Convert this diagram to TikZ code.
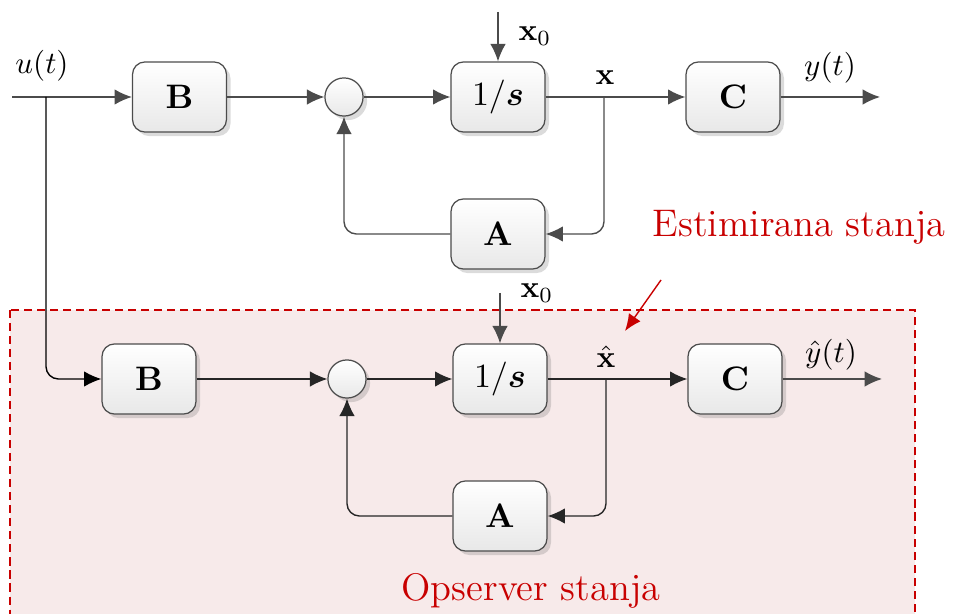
\documentclass[tikz,border=0pt]{standalone}
\usepackage{amsmath}
\usetikzlibrary{arrows.meta,shadows,calc}
\definecolor{obsred}{RGB}{200,0,0}
\definecolor{obsfill}{RGB}{247,234,234}
\definecolor{wirec}{RGB}{75,75,75}
\begin{document}
\begin{tikzpicture}[x=0.3225pt,y=-0.3225pt,
  softshadow/.style={drop shadow={shadow xshift=1.3pt,shadow yshift=-1.3pt,opacity=0.2,fill=black!70}},
  blockbox/.style={draw=black!70,line width=0.4pt,rounded corners=4pt,
    minimum width=30.3pt,minimum height=22.6pt,inner sep=0pt,
    top color=white,bottom color=black!9,softshadow,
    font=\fontsize{11}{13}\selectfont},
  sumnode/.style={circle,draw=black!70,line width=0.4pt,minimum size=12.3pt,
    inner sep=0pt,top color=white,bottom color=black!9,softshadow},
  wire/.style={draw=wirec,line width=0.45pt,rounded corners=4pt},
  sig/.style={wire,-{Latex[length=5.6pt,width=5pt]}},
  lbl/.style={font=\fontsize{10}{12}\selectfont,inner sep=0pt},
  redlbl/.style={text=obsred,font=\fontsize{12.4}{15}\selectfont,inner sep=0pt}]
\useasboundingbox (0,0) rectangle (953,614);

% observer region
\draw[obsred,line width=0.4pt,dash pattern=on 2.6pt off 1.6pt,fill=obsfill]
  (10,310) rectangle (915,640);

% ---------------- plant ----------------
\coordinate (uin) at (12,97);
\coordinate (ubr) at (46,97);
\node[blockbox] (B1) at (179.5,97) {$\mathbf{B}$};
\node[sumnode] (S1) at (344,97) {};
\node[blockbox] (I1) at (498,97) {$1/\boldsymbol{s}$};
\node[blockbox] (C1) at (733,97) {$\mathbf{C}$};
\node[blockbox] (A1) at (498,234) {$\mathbf{A}$};
\coordinate (x1) at (604,97);
\coordinate (y1) at (880,97);
\coordinate (x0a) at (498,12);

\draw[sig] (uin) -- (B1.west);
\draw[sig] (B1.east) -- (S1.west);
\draw[sig] (S1.east) -- (I1.west);
\draw[sig] (I1.east) -- (C1.west);
\draw[sig] (C1.east) -- (y1);
\draw[sig] (x0a) -- (I1.north);
\draw[sig] (x1) |- (A1.east);
\draw[sig] (A1.west) -| (S1.south);

\node[lbl] (ulab) at (42,66) {$u(t)$};
\node[lbl] (x0lab1) at (535,36) {$\mathbf{x}_0$};
\node[lbl] (xlab) at (605,78) {$\mathbf{x}$};
\node[lbl] (ylab) at (830,68) {$y(t)$};

% ---------------- observer ----------------
\node[blockbox] (B2) at (149,379) {$\mathbf{B}$};
\node[sumnode] (S2) at (347,379) {};
\node[blockbox] (I2) at (500,379) {$1/\boldsymbol{s}$};
\node[blockbox] (C2) at (735,379) {$\mathbf{C}$};
\node[blockbox] (A2) at (500,516) {$\mathbf{A}$};
\coordinate (x2) at (606,379);
\coordinate (y2) at (882,379);
\coordinate (x0b) at (500,293);

\draw[sig,draw=black] (ubr) |- (B2.west);
\draw[sig,draw=black!85] (B2.east) -- (S2.west);
\draw[sig,draw=black!85] (S2.east) -- (I2.west);
\draw[sig,draw=black!85] (I2.east) -- (C2.west);
\draw[sig] (C2.east) -- (y2);
\draw[sig] (x0b) -- (I2.north);
\draw[sig,draw=black!85] (x2) |- (A2.east);
\draw[sig,draw=black!85] (A2.west) -| (S2.south);

\node[lbl] (x0lab2) at (537,293) {$\mathbf{x}_0$};
\node[lbl] (xhlab) at (606,357) {$\hat{\mathbf{x}}$};
\node[lbl] (yhlab) at (831,355) {$\hat{y}(t)$};

% ---------------- annotations ----------------
\node[redlbl] (est) at (799,227) {Estimirana stanja};
\coordinate (estfrom) at (661,280);
\coordinate (estto) at (625,331);
\draw[obsred,line width=0.45pt,-{Latex[length=5.4pt,width=4.6pt]}] (estfrom) -- (estto);
\node[redlbl] (obs) at (531,591) {Opserver stanja};
\end{tikzpicture}
\end{document}
